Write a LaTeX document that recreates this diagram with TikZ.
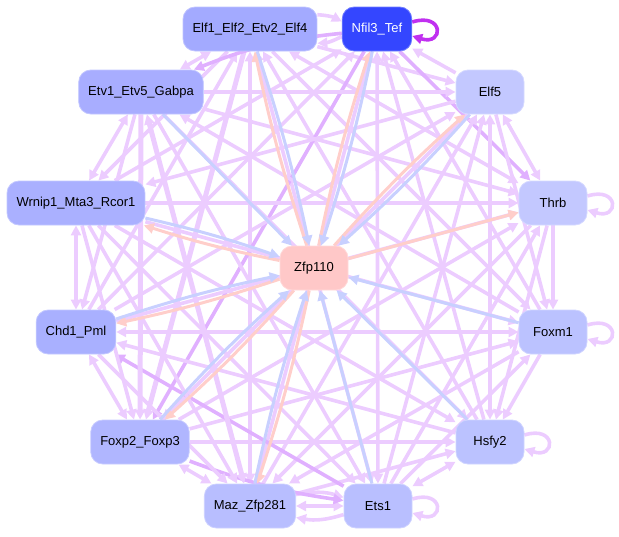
\documentclass[tikz,border=0pt]{standalone}
\usepackage{fontspec}
\setmainfont{Liberation Sans}
\usetikzlibrary{arrows.meta}
\pgfdeclarelayer{bg}
\pgfsetlayers{bg,main}

\definecolor{linkc}{RGB}{236,204,255}
\definecolor{linkdk}{RGB}{224,176,255}
\definecolor{loopdk}{RGB}{192,48,240}
\definecolor{inc}{RGB}{200,208,255}
\definecolor{outc}{RGB}{255,206,202}
\definecolor{cElf}{RGB}{163,170,255}
\definecolor{cNfil}{RGB}{52,70,255}
\definecolor{cEtv}{RGB}{168,173,255}
\definecolor{cElfv}{RGB}{195,200,255}
\definecolor{cWrnip}{RGB}{170,176,255}
\definecolor{cThrb}{RGB}{195,200,255}
\definecolor{cZfp}{RGB}{255,200,200}
\definecolor{cChd}{RGB}{169,176,255}
\definecolor{cFoxm}{RGB}{187,194,255}
\definecolor{cFoxp}{RGB}{176,182,255}
\definecolor{cHsfy}{RGB}{187,194,255}
\definecolor{cMaz}{RGB}{184,190,255}
\definecolor{cEts}{RGB}{185,191,255}

\begin{document}
\begin{tikzpicture}[x=1pt,y=-1pt,>={Triangle[length=10pt,width=10pt]}]
			\tikzstyle{tf}=[rectangle, rounded corners=12pt, minimum width=68pt, minimum height=44pt, inner xsep=9.5pt, fill=#1, draw=#1!70!white, line width=0.8pt, font=\fontsize{13}{15}\selectfont]
			\tikzstyle{link}=[draw=linkc, line width=3.6pt]
			\tikzstyle{heavy}=[draw=linkc, line width=5pt]
			\tikzstyle{dark}=[draw=linkdk, line width=3.6pt]
			\tikzstyle{tozfp}=[draw=inc, line width=3pt, ->]
			\tikzstyle{fromzfp}=[draw=outc, line width=3pt, ->]
			\useasboundingbox (0,0) rectangle (619,536);
			% nodes
			\node [tf=cElf] (elf) at (250,29) {Elf1\_Elf2\_Etv2\_Elf4};
			\node [tf=cNfil, text=white] (nfil) at (377,29) {Nfil3\_Tef};
			\node [tf=cEtv] (etv) at (141,92) {Etv1\_Etv5\_Gabpa};
			\node [tf=cElfv] (elfv) at (490,92) {Elf5};
			\node [tf=cWrnip] (wrnip) at (76,203) {Wrnip1\_Mta3\_Rcor1};
			\node [tf=cThrb] (thrb) at (553,203) {Thrb};
			\node [tf=cZfp] (zfp) at (314,268) {Zfp110};
			\node [tf=cChd] (chd) at (76,332) {Chd1\_Pml};
			\node [tf=cFoxm] (foxm) at (553,332) {Foxm1};
			\node [tf=cFoxp] (foxp) at (140,442) {Foxp2\_Foxp3};
			\node [tf=cHsfy] (hsfy) at (490,442) {Hsfy2};
			\node [tf=cMaz] (maz) at (250,506) {Maz\_Zfp281};
			\node [tf=cEts] (ets) at (378,506) {Ets1};
			\begin{pgfonlayer}{bg}
			% neighbours on the ring
			\draw [link,->] (elf) to[bend left=12] (nfil);
			\draw [link,->] (nfil) to[bend left=12] (elf);
			\draw [link,->] (elfv) -- (nfil);
			\draw [link,<->] (elfv) -- (thrb);
			\draw [link,->] (thrb) -- (foxm);
			\draw [link,->] (foxm) -- (hsfy);
			\draw [link,<->] (hsfy) -- (ets);
			\draw [link,<->] (maz) -- (ets);
			\draw [link,->] (maz) to[bend left=14] (ets);
			\draw [link,->] (ets) to[bend left=14] (maz);
			\draw [link,<->] (foxp) -- (maz);
			\draw [link,<->] (chd) -- (foxp);
			\draw [link,<->] (wrnip) -- (chd);
			\draw [link,<->] (etv) -- (wrnip);
			\draw [link,<->] (etv) -- (elf);
			% from elf
			\draw [link,->] (elf) -- (elfv);
			\draw [link,<->] (elf) -- (thrb);
			\draw [link,->] (elf) -- (foxm);
			\draw [link,<-] (elf) -- (hsfy);
			\draw [link,<->] (elf) -- (ets);
			\draw [link,<->] (elf) -- (maz);
			\draw [heavy,->] (elf) -- (foxp);
			\draw [link,<-] (elf) -- (chd);
			\draw [link,->] (elf) -- (wrnip);
			% from nfil
			\draw [dark,->] (nfil) -- (thrb);
			\draw [link,<-] (nfil) -- (foxm);
			\draw [link,<-] (nfil) -- (hsfy);
			\draw [link,<->] (nfil) -- (ets);
			\draw [link,<-] (nfil) -- (maz);
			\draw [dark,->] (nfil) -- (foxp);
			\draw [link,<-] (nfil) -- (chd);
			\draw [link,<-] (nfil) -- (wrnip);
			\draw [dark,->] (nfil) to[bend right=8] (etv);
			% from elfv
			\draw [link,->] (elfv) -- (foxm);
			\draw [link,<->] (elfv) -- (hsfy);
			\draw [link,<-] (elfv) -- (ets);
			\draw [link,<-] (elfv) -- (maz);
			\draw [link,->] (elfv) -- (foxp);
			\draw [link,<-] (elfv) -- (chd);
			\draw [link,->] (elfv) -- (wrnip);
			\draw [link,<-] (elfv) -- (etv);
			% from thrb
			\draw [link,->] (thrb) -- (hsfy);
			\draw [link,<-] (thrb) -- (ets);
			\draw [link,->] (thrb) -- (maz);
			\draw [link,<-] (thrb) -- (foxp);
			\draw [link,<-] (thrb) -- (chd);
			\draw [link,<-] (thrb) -- (wrnip);
			\draw [link,<-] (thrb) -- (etv);
			% from foxm
			\draw [link,<-] (foxm) -- (ets);
			\draw [link,->] (foxm) -- (maz);
			\draw [link,<-] (foxm) -- (foxp);
			\draw [link,<->] (foxm) -- (chd);
			\draw [link,<-] (foxm) -- (wrnip);
			\draw [link,->] (foxm) -- (etv);
			% from hsfy
			\draw [link,<-] (hsfy) -- (maz);
			\draw [link,<-] (hsfy) -- (foxp);
			\draw [link,->] (hsfy) -- (chd);
			\draw [link,<-] (hsfy) -- (wrnip);
			\draw [link,<-] (hsfy) -- (etv);
			% from ets, maz, foxp, chd
			\draw [dark,<-] (ets) to[bend left=6] (foxp);
			\draw [dark,->] (ets) -- (chd);
			\draw [link,<-] (ets) -- (wrnip);
			\draw [link,<-] (ets) -- (etv);
			\draw [link,<-] (maz) -- (chd);
			\draw [link,<-] (maz) -- (wrnip);
			\draw [heavy,<->] (maz) -- (etv);
			\draw [link,<-] (foxp) -- (wrnip);
			\draw [heavy,<-] (foxp) -- (etv);
			\draw [link,<-] (chd) -- (etv);
			% self loops
			\draw [draw=loopdk, line width=3.6pt, ->] ([yshift=7pt]nfil.east) .. controls +(32pt,10pt) and +(32pt,-10pt) .. ([yshift=-7pt]nfil.east);
			\draw [link,->] ([yshift=7pt]thrb.east) .. controls +(32pt,10pt) and +(32pt,-10pt) .. ([yshift=-7pt]thrb.east);
			\draw [link,->] ([yshift=7pt]foxm.east) .. controls +(32pt,10pt) and +(32pt,-10pt) .. ([yshift=-7pt]foxm.east);
			\draw [link,->] ([yshift=7pt]hsfy.east) .. controls +(32pt,10pt) and +(32pt,-10pt) .. ([yshift=-7pt]hsfy.east);
			\draw [link,->] ([yshift=7pt]ets.east) .. controls +(32pt,10pt) and +(32pt,-10pt) .. ([yshift=-7pt]ets.east);
			% Zfp110 in and out
			\draw [fromzfp] (zfp) to[bend left=3] (elf);
			\draw [tozfp] (elf) to[bend left=3] (zfp);
			\draw [fromzfp] (zfp) to[bend left=3] (nfil);
			\draw [tozfp] (nfil) to[bend left=3] (zfp);
			\draw [fromzfp] (zfp) to[bend left=3] (elfv);
			\draw [tozfp] (elfv) to[bend left=3] (zfp);
			\draw [fromzfp] (zfp) to[bend left=3] (wrnip);
			\draw [tozfp] (wrnip) to[bend left=3] (zfp);
			\draw [fromzfp] (zfp) to[bend left=3] (chd);
			\draw [tozfp] (chd) to[bend left=3] (zfp);
			\draw [fromzfp] (zfp) to[bend left=3] (foxp);
			\draw [tozfp] (foxp) to[bend left=3] (zfp);
			\draw [fromzfp] (zfp) to[bend left=3] (maz);
			\draw [tozfp] (maz) to[bend left=3] (zfp);
			\draw [fromzfp] (zfp) -- (thrb);
			\draw [tozfp] (etv) -- (zfp);
			\draw [tozfp] (foxm) -- (zfp);
			\draw [tozfp] (hsfy) -- (zfp);
			\draw [tozfp] (ets) -- (zfp);
			\end{pgfonlayer}
\end{tikzpicture}
\end{document}
